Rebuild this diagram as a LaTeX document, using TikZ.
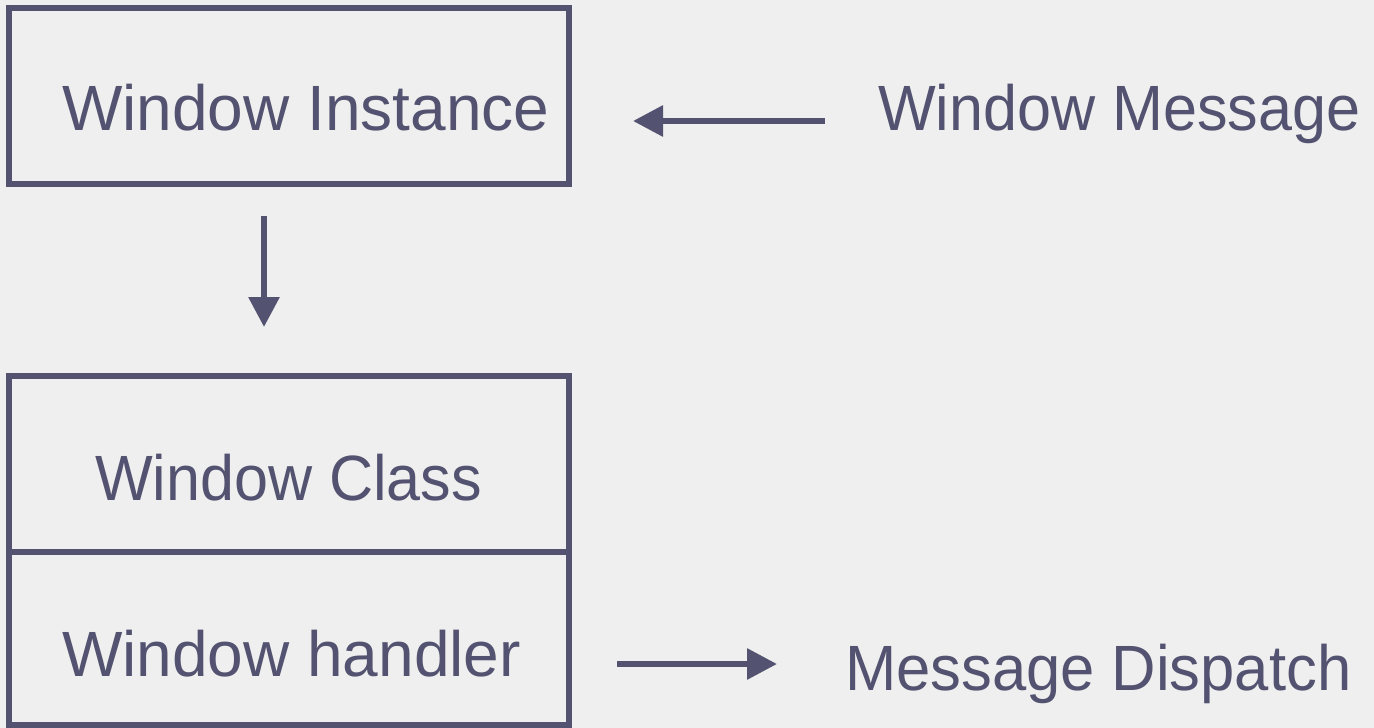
\documentclass[tikz,border=0pt]{standalone}
\usepackage{fontspec}
\setmainfont{Liberation Sans}
\usetikzlibrary{arrows.meta}
\definecolor{ink}{HTML}{535371}
\definecolor{paper}{HTML}{EFEFEF}
\begin{document}
\begin{tikzpicture}[x=1pt,y=-1pt,
  boxshape/.style={draw=ink,line width=5.5pt,rectangle,inner sep=0pt,outer sep=0pt},
  lbl/.style={text=ink,inner sep=0pt,outer sep=0pt,anchor=base west,font=\fontsize{64}{70}\selectfont},
  arr/.style={draw=ink,line width=6pt,-{Triangle[length=30pt,width=30pt]}}]
\fill[paper] (0,0) rectangle (1374,728);
\useasboundingbox (0,0) rectangle (1374,728);
\node[boxshape,minimum width=560pt,minimum height=176pt] (inst) at (289,96) {};
\node[boxshape,minimum width=560pt,minimum height=176pt] (cls) at (289,464) {};
\node[boxshape,minimum width=560pt,minimum height=173pt] (hnd) at (289,638.5) {};
\node[lbl] (insttxt) at (62,130) {Window Instance};
\node[lbl] (msg) at (878,130) {\scalebox{0.955}[1]{Window Message}};
\node[lbl] (clstxt) at (95,500) {\scalebox{0.955}[1]{Window Class}};
\node[lbl] (hndtxt) at (62,676) {Window handler};
\node[lbl] (disp) at (845,690) {\scalebox{0.962}[1]{Message Dispatch}};
\draw[arr,shorten <=53pt,shorten >=64pt] ([yshift=9pt]msg.base west) -- ([yshift=-25pt]inst.east);
\draw[arr,shorten <=32pt,shorten >=49pt] ([xshift=-25pt]inst.south) -- ([xshift=-25pt]cls.north);
\draw[arr,shorten <=48pt,shorten >=68pt] ([yshift=-25.5pt]hnd.east) -- ([yshift=26pt]disp.base west);
\end{tikzpicture}
\end{document}
